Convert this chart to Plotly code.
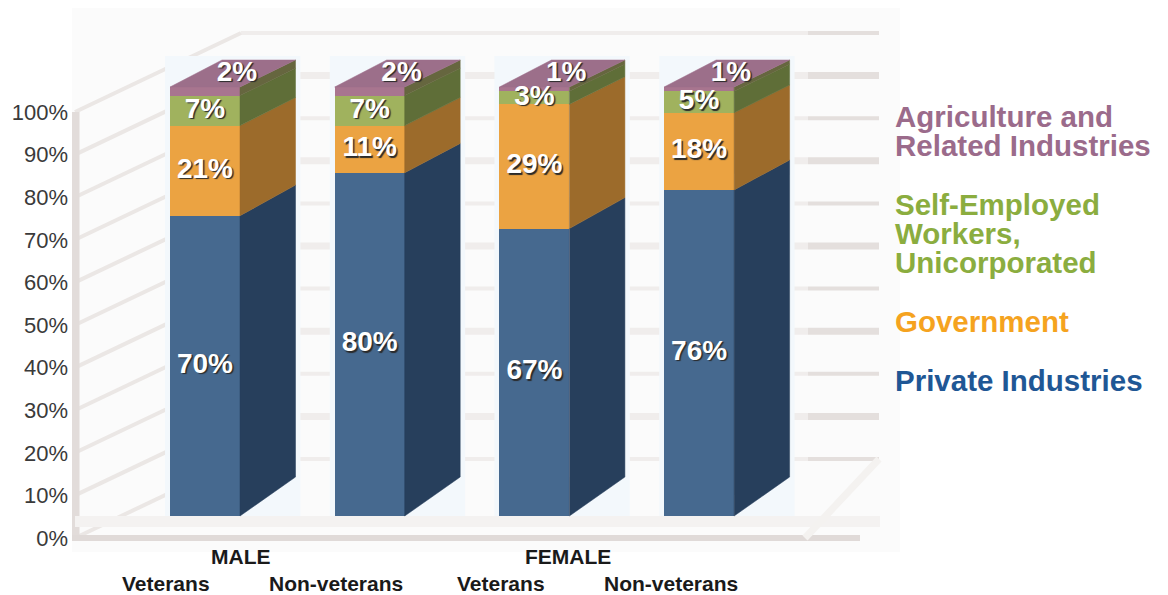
import plotly.graph_objects as go

# ---- data ----
groups = ["Male veterans", "Male non-veterans", "Female veterans", "Female non-veterans"]
private_ind = [70, 80, 67, 76]
government = [21, 11, 29, 18]
self_employed = [7, 7, 3, 5]
agriculture = [2, 2, 1, 1]
y_ticks = [0, 10, 20, 30, 40, 50, 60, 70, 80, 90, 100]

FONT = "Liberation Sans"
series = [
    ("Private Industries", private_ind, "#46698f", "#273f5c"),
    ("Government", government, "#eba342", "#9c6b2b"),
    ("Self-Employed Workers, Unicorporated", self_employed, "#a0b25e", "#5f6e38"),
    ("Agriculture and Related Industries", agriculture, "#a8758f", "#66663f"),
]
TOP_COLOR = "#9c6f8a"

# page geometry: the page body adds an 8 px margin round the figure
BODY = 8
PLOT_L, PLOT_R, PLOT_T, PLOT_B = 72, 900, 8, 552

# axis mapping: pixel helpers only used for layout placement
PX_X0, PX_PER_CAT = 205.0, 164.7
PX_Y0, PX_PER_PCT = 538.0, 4.26
def X(px): return (px - PX_X0) / PX_PER_CAT
def Y(py): return (PX_Y0 - py) / PX_PER_PCT
def PAPER_Y(py): return (PLOT_B - py) / (PLOT_B - PLOT_T)

# 3-D projection of a bar: front plane and back plane
BAR_W = 70 / PX_PER_CAT
DEPTH = 55.5 / PX_PER_CAT
TOP_SHIFT = 52 / PX_PER_CAT
F_BASE, F_SCALE = Y(516), (516 - 87) / 100 / PX_PER_PCT
B_BASE, B_SCALE = Y(477), (477 - 60) / 100 / PX_PER_PCT
def yf(v): return F_BASE + v * F_SCALE
def yb(v): return B_BASE + v * B_SCALE

fig = go.Figure()
n = len(groups)
xs = list(range(n))

# front faces and side faces
cum = [0] * n
for name, vals, front, side in series:
    fig.add_trace(go.Bar(
        x=xs, y=[v * F_SCALE for v in vals], base=[yf(c) for c in cum],
        width=BAR_W, marker=dict(color=front, line=dict(width=0)), name=name,
        showlegend=False, hoverinfo="skip"))
    for i in xs:
        a, b = cum[i], cum[i] + vals[i]
        xr = i + BAR_W / 2
        fig.add_trace(go.Scatter(
            x=[xr, xr + DEPTH, xr + DEPTH, xr, xr],
            y=[yf(a), yb(a), yb(b), yf(b), yf(a)],
            mode="lines", fill="toself", fillcolor=side,
            line=dict(color=side, width=0.5), showlegend=False, hoverinfo="skip"))
    cum = [c + v for c, v in zip(cum, vals)]

# top faces
for i in xs:
    xl, xr = i - BAR_W / 2, i + BAR_W / 2
    t = cum[i]
    fig.add_trace(go.Scatter(
        x=[xl, xl + TOP_SHIFT, xr + DEPTH, xr, xl],
        y=[yf(t), yb(t), yb(t), yf(t), yf(t)],
        mode="lines", fill="toself", fillcolor=TOP_COLOR,
        line=dict(color=TOP_COLOR, width=0.5), showlegend=False, hoverinfo="skip"))

# value labels
lab_x, lab_y, lab_t = [], [], []
cum = [0] * n
for name, vals, _, _ in series[:3]:
    for i in xs:
        lab_x.append(i)
        lab_y.append(yf(cum[i] + vals[i] / 2))
        lab_t.append(f"{vals[i]}%")
    cum = [c + v for c, v in zip(cum, vals)]
for i in xs:
    lab_x.append(i + DEPTH / 2 + 0.025)
    lab_y.append((yf(100) + yb(100)) / 2)
    lab_t.append(f"{agriculture[i]}%")
fig.add_trace(go.Scatter(
    x=lab_x, y=lab_y, text=lab_t, mode="text", textposition="middle center",
    textfont=dict(family=FONT, size=28, color="white", weight="bold",
                  shadow="1.5px 1.5px 1px #2a2a2a"),
    showlegend=False, hoverinfo="skip"))

# walls, floor and gridlines behind the bars
GRID = "#e4dfdd"
GRID_SOFT = "#f0edec"
shapes = []
WALL_L, CORNER, WALL_R, FADE = X(75), X(241), X(879), X(808)
BACK_DROP = 538 - 459
for k, t in enumerate(y_ticks):
    yb_wall = t + BACK_DROP / PX_PER_PCT
    w = 7 if k % 2 else 4
    shapes.append(dict(type="line", layer="below", xref="x", yref="y",
                       x0=CORNER, x1=FADE, y0=yb_wall, y1=yb_wall,
                       line=dict(color=GRID_SOFT, width=w)))
    shapes.append(dict(type="line", layer="below", xref="x", yref="y",
                       x0=FADE, x1=WALL_R, y0=yb_wall, y1=yb_wall,
                       line=dict(color=GRID, width=w)))
    shapes.append(dict(type="line", layer="below", xref="x", yref="y",
                       x0=WALL_L, x1=CORNER, y0=t, y1=yb_wall,
                       line=dict(color="#ebe7e5", width=4)))
# left wall edge
shapes.append(dict(type="line", layer="below", xref="x", yref="y",
                   x0=WALL_L, x1=WALL_L, y0=0, y1=100, line=dict(color="#e2dcda", width=9)))
# floor bands
shapes.append(dict(type="rect", layer="below", xref="x", yref="y",
                   x0=WALL_L, x1=X(880), y0=Y(527), y1=Y(516),
                   fillcolor="#f4f2f1", line=dict(width=0)))
shapes.append(dict(type="line", layer="below", xref="x", yref="y",
                   x0=X(72), x1=X(860), y0=0, y1=0, line=dict(color="#e0dad8", width=6)))
shapes.append(dict(type="line", layer="below", xref="x", yref="y",
                   x0=X(805), x1=WALL_R, y0=0, y1=BACK_DROP / PX_PER_PCT,
                   line=dict(color="#f4f2f0", width=7)))
# pale halo round each bar
for i in xs:
    xl, xr = i - BAR_W / 2, i + BAR_W / 2 + DEPTH
    shapes.append(dict(type="rect", layer="below", xref="x", yref="y",
                       x0=xl - 0.03, x1=xr + 0.03, y0=Y(516), y1=Y(56),
                       fillcolor="#f3f8fc", line=dict(width=0)))

# text labels
anns = []
def add_text(px, py, text, size, color, anchor="center"):
    # y in paper units so that labels below the plotting area stay visible
    anns.append(dict(xref="x", yref="paper", x=X(px), y=PAPER_Y(py), text=text, showarrow=False,
                     xanchor=anchor, yanchor="middle",
                     font=dict(family=FONT, size=size, color=color, weight="bold")))

add_text(241, 556, "MALE", 21, "#1a1a1a")
add_text(568, 556, "FEMALE", 21, "#1a1a1a")
for px, lbl in zip([166, 336, 501, 671], ["Veterans", "Non-veterans", "Veterans", "Non-veterans"]):
    add_text(px, 583, lbl, 21, "#1a1a1a")
legend_lines = [
    ("Agriculture and", 117, "#9b6b8b"), ("Related Industries", 145, "#9b6b8b"),
    ("Self-Employed", 204, "#8bad3f"), ("Workers,", 233, "#8bad3f"), ("Unicorporated", 262, "#8bad3f"),
    ("Government", 321, "#f5a31f"),
    ("Private Industries", 380, "#1f5795"),
]
for txt, py, col in legend_lines:
    add_text(893, py, txt, 29.5, col, "left")

W, H = 1168 - BODY, 595 - BODY
fig.update_layout(
    width=W, height=H, barmode="overlay", bargap=0,
    margin=dict(l=PLOT_L - BODY, r=W - (PLOT_R - BODY), t=PLOT_T - BODY, b=H - (PLOT_B - BODY)),
    paper_bgcolor="white", plot_bgcolor="#fbfbfb",
    xaxis=dict(range=[X(PLOT_L), X(PLOT_R)], visible=False, fixedrange=True),
    yaxis=dict(range=[Y(PLOT_B), Y(PLOT_T)], tickvals=y_ticks, ticktext=[f"{t}%" for t in y_ticks],
               showgrid=False, zeroline=False, showline=False, ticks="", ticklabelstandoff=3,
               tickfont=dict(family=FONT, size=22, color="#3a3a3a"), fixedrange=True),
    shapes=shapes, annotations=anns, showlegend=False,
)
fig.write_html("out.html", config=dict(displayModeBar=False))
